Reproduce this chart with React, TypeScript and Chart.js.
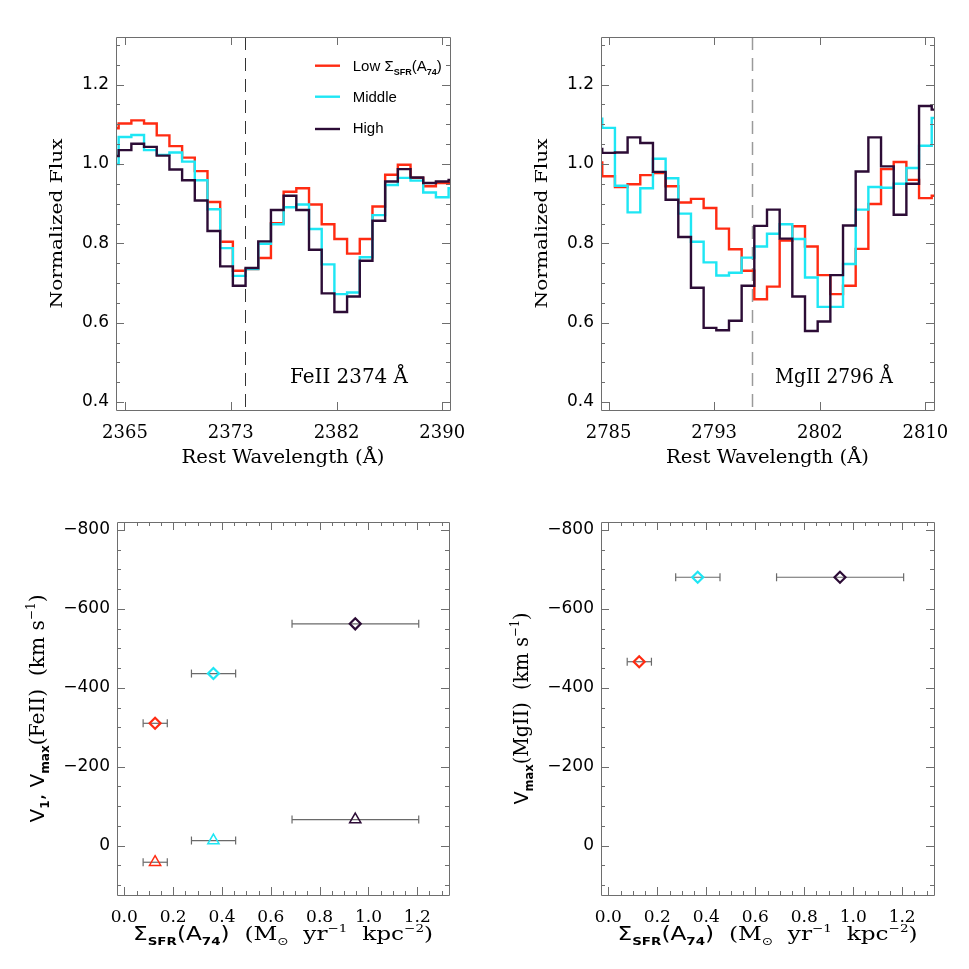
import React, { useEffect, useRef } from "react";
import { Chart, registerables } from "chart.js";

Chart.register(...registerables);

// ---------------- data ----------------
const RED = "#ff2b12";
const CYAN = "#1ee6f4";
const DARK = "#2c0c36";
const FRAME = "#6e6e6e";
const ERR = "#6a6a6a";

const SERIES_LABELS = ["Low", "Middle", "High"];

// FeII 2374 panel
const FE_WAVE = [2364, 2365, 2366, 2367, 2368, 2369, 2370, 2371, 2372, 2373, 2374, 2375, 2376, 2377, 2378, 2379, 2380, 2381, 2382, 2383, 2384, 2385, 2386, 2387, 2388, 2389, 2390, 2391];
const FE_LOW = [1.09, 1.102, 1.11, 1.102, 1.072, 1.045, 1.016, 0.982, 0.904, 0.804, 0.731, 0.735, 0.763, 0.851, 0.93, 0.939, 0.898, 0.848, 0.811, 0.774, 0.811, 0.893, 0.973, 0.998, 0.965, 0.944, 0.952, 0.952];
const FE_MID = [1.0, 1.068, 1.073, 1.035, 1.023, 1.029, 1.006, 0.959, 0.886, 0.788, 0.718, 0.735, 0.799, 0.848, 0.891, 0.898, 0.836, 0.747, 0.672, 0.676, 0.765, 0.871, 0.947, 0.965, 0.958, 0.928, 0.916, 0.939];
const FE_HIGH = [1.02, 1.035, 1.051, 1.043, 1.021, 0.986, 0.959, 0.908, 0.831, 0.742, 0.693, 0.738, 0.805, 0.884, 0.92, 0.884, 0.784, 0.674, 0.627, 0.666, 0.756, 0.857, 0.956, 0.987, 0.966, 0.952, 0.956, 0.96];
const FE_REST = 2374.46;
const FE_X_RANGE = [2364.29, 2390.61];
const FE_XTICK_VALUES = [2365, 2373.33, 2381.67, 2390];
const FE_XTICK_LABELS = ["2365", "2373", "2382", "2390"];

// MgII 2796 panel
const MG_WAVE = [2784, 2785, 2786, 2787, 2788, 2789, 2790, 2791, 2792, 2793, 2794, 2795, 2796, 2797, 2798, 2799, 2800, 2801, 2802, 2803, 2804, 2805, 2806, 2807, 2808, 2809, 2810, 2811];
const MG_LOW = [1.004, 0.969, 0.942, 0.949, 0.972, 0.977, 0.944, 0.903, 0.912, 0.889, 0.837, 0.785, 0.731, 0.659, 0.691, 0.807, 0.843, 0.792, 0.72, 0.672, 0.693, 0.786, 0.899, 0.987, 1.005, 0.96, 0.914, 0.92];
const MG_MID = [1.114, 1.091, 0.945, 0.878, 0.939, 1.013, 0.964, 0.875, 0.804, 0.752, 0.719, 0.726, 0.764, 0.792, 0.824, 0.848, 0.811, 0.714, 0.64, 0.64, 0.748, 0.885, 0.942, 0.94, 0.95, 0.99, 1.046, 1.116];
const MG_HIGH = [1.038, 1.028, 1.029, 1.067, 1.053, 0.98, 0.91, 0.816, 0.688, 0.587, 0.581, 0.605, 0.693, 0.844, 0.885, 0.812, 0.666, 0.579, 0.603, 0.72, 0.845, 0.981, 1.067, 0.994, 0.872, 0.95, 1.146, 1.137];
const MG_REST = 2796.35;
const MG_X_RANGE = [2784.4, 2810.68];
const MG_XTICK_VALUES = [2785, 2793.33, 2801.67, 2810];
const MG_XTICK_LABELS = ["2785", "2793", "2802", "2810"];

const FLUX_RANGE = [0.38, 1.32];

// velocity vs SFR surface density panels
const SFR = [0.126, 0.365, 0.946];
const SFR_LO = [0.077, 0.275, 0.687];
const SFR_HI = [0.176, 0.456, 1.206];
const V1_FE = [42, -13, -66];
const VMAX_FE = [-310, -436, -562];
const VMAX_MG = [-466, -680, -680];
const SFR_RANGE = [-0.03, 1.33];
const V_RANGE = [-820, 125];

const COLORS = [RED, CYAN, DARK];

// ---------------- helpers ----------------
type Seg = { t: string; f: string; dy?: number };
type RichItem = {
  segs: Seg[];
  pos: (a: any) => { x: number; y: number };
  align?: "left" | "center";
  rot?: boolean;
  width?: number;
  color?: string;
};

function drawRich(ctx: CanvasRenderingContext2D, it: RichItem, a: any) {
  const { x, y } = it.pos(a);
  ctx.save();
  ctx.translate(x, y);
  if (it.rot) ctx.rotate(-Math.PI / 2);
  ctx.textBaseline = "alphabetic";
  ctx.textAlign = "left";
  ctx.fillStyle = it.color || "#000";
  const widths = it.segs.map((s) => {
    ctx.font = s.f;
    return ctx.measureText(s.t).width;
  });
  const natural = widths.reduce((p, c) => p + c, 0);
  const k = it.width ? it.width / natural : 1;
  ctx.scale(k, 1);
  let cx = it.align === "left" ? 0 : -natural / 2;
  it.segs.forEach((s, i) => {
    ctx.font = s.f;
    ctx.fillText(s.t, cx, s.dy || 0);
    cx += widths[i];
  });
  ctx.restore();
}

function tickList(min: number, max: number, step: number) {
  const out: { value: number }[] = [];
  const start = Math.ceil(min / step - 1e-9) * step;
  for (let v = start; v <= max + 1e-9; v += step) out.push({ value: Math.round(v * 1e6) / 1e6 });
  return out;
}

function isMult(v: number, m: number) {
  const r = v / m;
  return Math.abs(r - Math.round(r)) < 1e-6;
}

type RefLine = { value: number; color: string; width: number; dash: number[] };

function makePlugin(rich: RichItem[], ref?: RefLine, legend?: boolean) {
  return {
    id: "idlDeco",
    beforeDatasetsDraw(chart: any) {
      if (!ref) return;
      const { ctx, chartArea: a, scales } = chart;
      const px = Math.round(scales.x.getPixelForValue(ref.value)) + 0.5;
      ctx.save();
      ctx.strokeStyle = ref.color;
      ctx.lineWidth = ref.width;
      ctx.setLineDash(ref.dash);
      ctx.beginPath();
      ctx.moveTo(px, a.top);
      ctx.lineTo(px, a.bottom);
      ctx.stroke();
      ctx.restore();
    },
    afterDraw(chart: any) {
      const { ctx, chartArea: a, scales } = chart;
      ctx.save();
      ctx.strokeStyle = FRAME;
      ctx.lineWidth = 1;
      ctx.beginPath();
      ctx.rect(a.left + 0.5, a.top + 0.5, a.right - a.left, a.bottom - a.top);
      ctx.stroke();
      // inward ticks on all four sides
      ctx.beginPath();
      scales.x.ticks.forEach((t: any) => {
        const px = Math.round(scales.x.getPixelForValue(t.value)) + 0.5;
        const len = t.label !== "" ? 8 : 4;
        ctx.moveTo(px, a.bottom);
        ctx.lineTo(px, a.bottom - len);
        ctx.moveTo(px, a.top);
        ctx.lineTo(px, a.top + len);
      });
      scales.y.ticks.forEach((t: any) => {
        const py = Math.round(scales.y.getPixelForValue(t.value)) + 0.5;
        const len = t.label !== "" ? 8 : 4;
        ctx.moveTo(a.left, py);
        ctx.lineTo(a.left + len, py);
        ctx.moveTo(a.right, py);
        ctx.lineTo(a.right - len, py);
      });
      ctx.stroke();
      ctx.restore();

      if (legend) {
        const rowsY = [28.7, 59.7, 92];
        ctx.save();
        rowsY.forEach((dy, i) => {
          ctx.strokeStyle = COLORS[i];
          ctx.lineWidth = 2.4;
          ctx.beginPath();
          ctx.moveTo(a.left + 199, a.top + dy);
          ctx.lineTo(a.left + 224, a.top + dy);
          ctx.stroke();
        });
        ctx.restore();
        const L = (s: number, b = false) => `${b ? "bold " : ""}${s}px "Liberation Sans"`;
        const lx = (aa: any) => aa.left + 236.7;
        const legendItems: RichItem[] = [
          {
            segs: [
              { t: SERIES_LABELS[0] + " Σ", f: L(15) },
              { t: "SFR", f: L(9, true), dy: 4 },
              { t: "(A", f: L(15) },
              { t: "74", f: L(9, true), dy: 4 },
              { t: ")", f: L(15) },
            ],
            pos: (aa) => ({ x: lx(aa), y: aa.top + 33.7 }),
            align: "left",
          },
          { segs: [{ t: SERIES_LABELS[1], f: L(15) }], pos: (aa) => ({ x: lx(aa), y: aa.top + 64.7 }), align: "left" },
          { segs: [{ t: SERIES_LABELS[2], f: L(15) }], pos: (aa) => ({ x: lx(aa), y: aa.top + 96 }), align: "left" },
        ];
        legendItems.forEach((it) => drawRich(ctx, it, a));
      }
      rich.forEach((it) => drawRich(ctx, it, a));
    },
  };
}

type Box = { x: number; y: number; w: number; h: number };
type Area = { l: number; t: number; r: number; b: number };

function baseOptions(box: Box, area: Area, xCfg: any, yCfg: any) {
  return {
    responsive: false,
    animation: false,
    devicePixelRatio: 1,
    layout: { padding: { left: 0, top: area.t, right: box.w - area.r, bottom: 0 } },
    plugins: { legend: { display: false }, tooltip: { enabled: false } },
    scales: {
      x: {
        type: "linear",
        position: "bottom",
        grid: { display: false, drawTicks: false },
        border: { display: false },
        afterFit: (s: any) => {
          s.height = box.h - area.b;
        },
        ...xCfg,
        ticks: { autoSkip: false, maxRotation: 0, minRotation: 0, color: "#000", ...xCfg.ticks },
      },
      y: {
        type: "linear",
        position: "left",
        grid: { display: false, drawTicks: false },
        border: { display: false },
        afterFit: (s: any) => {
          s.width = area.l;
        },
        ...yCfg,
        ticks: { autoSkip: false, color: "#000", ...yCfg.ticks },
      },
    },
  };
}

function stepDataset(wave: number[], vals: number[], color: string, order: number) {
  return {
    type: "line",
    data: wave.map((w, i) => ({ x: w, y: vals[i] })),
    borderColor: color,
    borderWidth: 2.4,
    pointRadius: 0,
    stepped: "middle",
    fill: false,
    clip: 0,
    order,
  };
}

function spectrumConfig(
  box: Box,
  area: Area,
  wave: number[],
  series: number[][],
  xRange: number[],
  xTickValues: number[],
  xTickLabels: string[],
  ref: RefLine,
  lineLabel: string,
  legend: boolean
) {
  const serif = (s: number) => `${s}px "DejaVu Serif"`;
  const rich: RichItem[] = [
    {
      segs: [{ t: "Normalized Flux", f: serif(17) }],
      pos: (a) => ({ x: a.left - 54, y: (a.top + a.bottom) / 2 }),
      rot: true,
      width: 170,
    },
    {
      segs: [{ t: "Rest Wavelength (Å)", f: serif(19) }],
      pos: (a) => ({ x: (a.left + a.right) / 2, y: a.bottom + 53 }),
      width: 203,
    },
    {
      segs: [{ t: lineLabel, f: serif(20) }],
      pos: (a) => ({ x: a.left + 174, y: a.top + 346 }),
      align: "left",
      width: 118,
    },
  ];
  const opts = baseOptions(
    box,
    area,
    {
      min: xRange[0],
      max: xRange[1],
      afterBuildTicks: (s: any) => {
        s.ticks = xTickValues.map((v) => ({ value: v }));
      },
      ticks: {
        font: { family: "DejaVu Serif", size: 18 },
        padding: 13,
        callback: (_v: any, i: number) => xTickLabels[i],
      },
    },
    {
      min: FLUX_RANGE[0],
      max: FLUX_RANGE[1],
      afterBuildTicks: (s: any) => {
        s.ticks = tickList(FLUX_RANGE[0], FLUX_RANGE[1], 0.05);
      },
      ticks: {
        font: { family: "DejaVu Sans", size: 17 },
        padding: 7,
        callback: (v: number) => (isMult(v, 0.2) ? v.toFixed(1) : ""),
      },
    }
  );
  return {
    type: "line",
    data: {
      datasets: [
        stepDataset(wave, series[0], RED, 3),
        stepDataset(wave, series[1], CYAN, 2),
        stepDataset(wave, series[2], DARK, 1),
      ],
    },
    options: opts,
    plugins: [makePlugin(rich, ref, legend)],
  };
}

function velocityConfig(box: Box, area: Area, groups: { y: number[]; style: string; radius: number; bw: number }[], yTitle: RichItem) {
  const sans = (s: number, b = false) => `${b ? "bold " : ""}${s}px "DejaVu Sans"`;
  const serif = (s: number) => `${s}px "DejaVu Serif"`;
  const xTitle: RichItem = {
    segs: [
      { t: "Σ", f: sans(19) },
      { t: "SFR", f: sans(11, true), dy: 5 },
      { t: "(A", f: sans(19) },
      { t: "74", f: sans(11, true), dy: 5 },
      { t: ")", f: sans(19) },
      { t: "  (M", f: serif(19) },
      { t: "⊙", f: sans(11), dy: 5 },
      { t: "  yr", f: serif(19) },
      { t: "−1", f: serif(11), dy: -8 },
      { t: "  kpc", f: serif(19) },
      { t: "−2", f: serif(11), dy: -8 },
      { t: ")", f: serif(19) },
    ],
    pos: (a) => ({ x: (a.left + a.right) / 2, y: a.bottom + 45 }),
    width: 300,
  };
  const datasets: any[] = [];
  groups.forEach((g) => {
    g.y.forEach((yv, i) => {
      datasets.push({
        type: "line",
        data: [
          { x: SFR_LO[i], y: yv },
          { x: SFR_HI[i], y: yv },
        ],
        borderColor: ERR,
        borderWidth: 1.2,
        pointStyle: "line",
        rotation: 90,
        pointRadius: 4,
        pointBorderColor: ERR,
        pointBorderWidth: 1.2,
        fill: false,
        order: 10,
      });
    });
    datasets.push({
      type: "scatter",
      data: g.y.map((yv, i) => ({ x: SFR[i], y: yv })),
      pointStyle: g.style,
      pointRadius: g.radius,
      pointBorderWidth: g.bw,
      pointBorderColor: COLORS,
      pointBackgroundColor: "rgba(255,255,255,0)",
      order: 1,
    });
  });
  const opts = baseOptions(
    box,
    area,
    {
      min: SFR_RANGE[0],
      max: SFR_RANGE[1],
      afterBuildTicks: (s: any) => {
        s.ticks = tickList(SFR_RANGE[0], SFR_RANGE[1], 0.05);
      },
      ticks: {
        font: { family: "DejaVu Serif", size: 17 },
        padding: 12,
        callback: (v: number) => (isMult(v, 0.2) ? v.toFixed(1) : ""),
      },
    },
    {
      min: V_RANGE[0],
      max: V_RANGE[1],
      reverse: true,
      afterBuildTicks: (s: any) => {
        s.ticks = tickList(V_RANGE[0], V_RANGE[1], 50);
      },
      ticks: {
        font: { family: "DejaVu Sans", size: 17 },
        padding: 7,
        callback: (v: number) => (isMult(v, 200) ? (v < 0 ? "−" + Math.abs(v) : String(v)) : ""),
      },
    }
  );
  return {
    type: "scatter",
    data: { datasets },
    options: opts,
    plugins: [makePlugin([xTitle, yTitle])],
  };
}

// ---------------- components ----------------
function Panel({ box, build }: { box: Box; build: () => any }) {
  const ref = useRef<HTMLCanvasElement | null>(null);
  useEffect(() => {
    if (!ref.current) return;
    const chart = new Chart(ref.current, build());
    return () => chart.destroy();
  }, []);
  return (
    <canvas
      ref={ref}
      width={box.w}
      height={box.h}
      style={{ position: "absolute", left: box.x, top: box.y, width: box.w, height: box.h }}
    />
  );
}

const B1: Box = { x: 0, y: 0, w: 484, h: 484 };
const A1: Area = { l: 116, t: 37, r: 450, b: 410 };
const B2: Box = { x: 484, y: 0, w: 485, h: 484 };
const A2: Area = { l: 117, t: 37, r: 450, b: 410 };
const B3: Box = { x: 0, y: 484, w: 484, h: 485 };
const A3: Area = { l: 117, t: 38, r: 449, b: 411 };
const B4: Box = { x: 484, y: 484, w: 485, h: 485 };
const A4: Area = { l: 117, t: 38, r: 450, b: 411 };

export default function App() {
  const sans = (s: number, b = false) => `${b ? "bold " : ""}${s}px "DejaVu Sans"`;
  const serif = (s: number) => `${s}px "DejaVu Serif"`;
  return (
    <div style={{ position: "absolute", left: 0, top: 0, width: 969, height: 969, background: "#fff" }}>
      <Panel
        box={B1}
        build={() =>
          spectrumConfig(B1, A1, FE_WAVE, [FE_LOW, FE_MID, FE_HIGH], FE_X_RANGE, FE_XTICK_VALUES, FE_XTICK_LABELS,
            { value: FE_REST, color: "#333", width: 1, dash: [13, 8] }, "FeII 2374 Å", true)
        }
      />
      <Panel
        box={B2}
        build={() =>
          spectrumConfig(B2, A2, MG_WAVE, [MG_LOW, MG_MID, MG_HIGH], MG_X_RANGE, MG_XTICK_VALUES, MG_XTICK_LABELS,
            { value: MG_REST, color: "#9a9a9a", width: 1.5, dash: [13, 8] }, "MgII 2796 Å", false)
        }
      />
      <Panel
        box={B3}
        build={() =>
          velocityConfig(
            B3,
            A3,
            [
              { y: VMAX_FE, style: "rectRot", radius: 5.5, bw: 2.2 },
              { y: V1_FE, style: "triangle", radius: 6.5, bw: 1.5 },
            ],
            {
              segs: [
                { t: "V", f: sans(20) },
                { t: "1", f: sans(12, true), dy: 5 },
                { t: ", V", f: sans(20) },
                { t: "max", f: sans(12, true), dy: 5 },
                { t: "(FeII)  (km s", f: serif(20) },
                { t: "−1", f: serif(12), dy: -9 },
                { t: ")", f: serif(20) },
              ],
              pos: (a) => ({ x: a.left - 73.5, y: (a.top + a.bottom) / 2 }),
              rot: true,
              width: 228,
            }
          )
        }
      />
      <Panel
        box={B4}
        build={() =>
          velocityConfig(
            B4,
            A4,
            [{ y: VMAX_MG, style: "rectRot", radius: 5.5, bw: 2.2 }],
            {
              segs: [
                { t: "V", f: sans(20) },
                { t: "max", f: sans(12, true), dy: 5 },
                { t: "(MgII)  (km s", f: serif(20) },
                { t: "−1", f: serif(12), dy: -9 },
                { t: ")", f: serif(20) },
              ],
              pos: (a) => ({ x: a.left - 73.5, y: (a.top + a.bottom) / 2 }),
              rot: true,
              width: 192,
            }
          )
        }
      />
    </div>
  );
}
